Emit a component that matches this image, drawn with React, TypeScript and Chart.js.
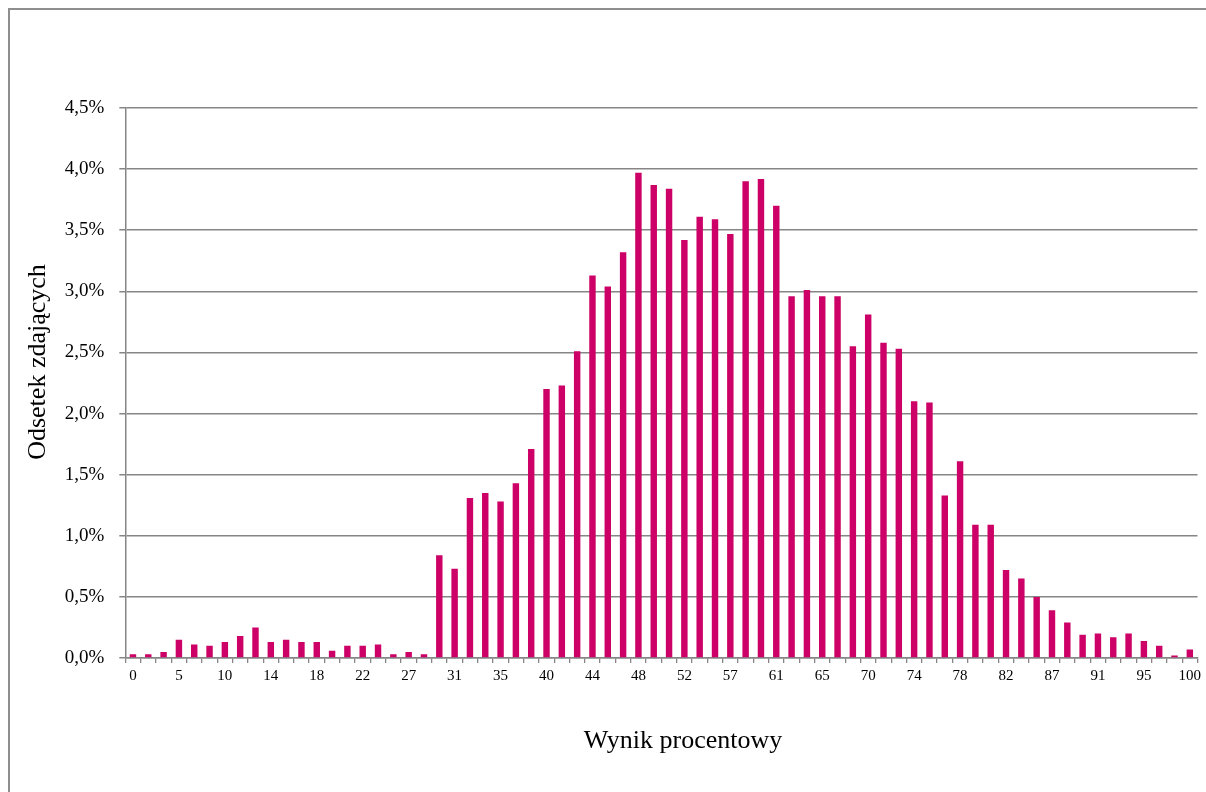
import React, { useEffect, useRef } from "react";
import { Chart, registerables } from "chart.js";

Chart.register(...registerables);

const categories: string[] = [
  "0", "1", "3", "5", "6", "8", "10", "11", "12", "14",
  "15", "16", "18", "19", "21", "22", "24", "25", "27", "28",
  "29", "31", "32", "34", "35", "37", "38", "40", "41", "43",
  "44", "45", "47", "48", "50", "51", "52", "54", "55", "57",
  "58", "60", "61", "62", "64", "65", "67", "68", "70", "71",
  "72", "74", "75", "77", "78", "80", "81", "82", "84", "86",
  "87", "88", "90", "91", "93", "94", "95", "97", "99", "100",
];

const shares: number[] = [
  0.03, 0.03, 0.05, 0.15, 0.11, 0.10, 0.13, 0.18, 0.25, 0.13,
  0.15, 0.13, 0.13, 0.06, 0.10, 0.10, 0.11, 0.03, 0.05, 0.03,
  0.84, 0.73, 1.31, 1.35, 1.28, 1.43, 1.71, 2.20, 2.23, 2.51,
  3.13, 3.04, 3.32, 3.97, 3.87, 3.84, 3.42, 3.61, 3.59, 3.47,
  3.90, 3.92, 3.70, 2.96, 3.01, 2.96, 2.96, 2.55, 2.81, 2.58,
  2.53, 2.10, 2.09, 1.33, 1.61, 1.09, 1.09, 0.72, 0.65, 0.50,
  0.39, 0.29, 0.19, 0.20, 0.17, 0.20, 0.14, 0.10, 0.02, 0.07,
];

const labelEvery = 3;
const xTitle = "Wynik procentowy";
const yTitle = "Odsetek zdających";

const FONT = "'Liberation Serif', 'Times New Roman', serif";
const GRID = "#868686";

const titlesPlugin = {
  id: "axisTitles",
  afterDraw(chart: any) {
    const ctx = chart.ctx;
    ctx.save();
    ctx.fillStyle = "#000";
    ctx.font = `26px ${FONT}`;
    ctx.textAlign = "center";
    ctx.textBaseline = "middle";
    ctx.fillText(xTitle, 683, 741);
    ctx.translate(38, 362);
    ctx.rotate(-Math.PI / 2);
    ctx.fillText(yTitle, 0, 0);
    ctx.restore();
  },
};

export default function App() {
  const ref = useRef<HTMLCanvasElement | null>(null);

  useEffect(() => {
    if (!ref.current) return;
    const chart = new Chart(ref.current, {
      type: "bar",
      data: {
        labels: categories,
        datasets: [
          {
            data: shares,
            backgroundColor: "#CC0066",
            borderWidth: 0,
            barPercentage: 0.42,
            categoryPercentage: 1,
          },
        ],
      },
      options: {
        responsive: false,
        animation: false,
        devicePixelRatio: 1,
        layout: { padding: { left: 0, top: 108, right: 8.5, bottom: 0 } },
        plugins: {
          legend: { display: false },
          tooltip: { enabled: false },
          title: { display: false },
        },
        scales: {
          x: {
            offset: true,
            afterFit: (scale: any) => {
              scale.height = 134;
            },
            grid: {
              display: true,
              offset: true,
              drawOnChartArea: false,
              drawTicks: true,
              tickLength: 5,
              color: GRID,
              lineWidth: 1.3,
            },
            border: { display: true, color: GRID, width: 1.5 },
            ticks: {
              autoSkip: false,
              maxRotation: 0,
              minRotation: 0,
              padding: 4,
              color: "#000",
              font: { family: FONT, size: 15 },
              callback: (_v: any, i: number) =>
                i % labelEvery === 0 ? categories[i] : "",
            },
          },
          y: {
            min: 0,
            max: 4.5,
            afterFit: (scale: any) => {
              scale.width = 125.3;
            },
            grid: {
              color: GRID,
              lineWidth: 1.5,
              tickLength: 6,
              drawTicks: true,
            },
            border: { display: true, color: GRID, width: 1.5 },
            ticks: {
              stepSize: 0.5,
              padding: 15,
              color: "#000",
              font: { family: FONT, size: 19 },
              callback: (v: any) =>
                Number(v).toFixed(1).replace(".", ",") + "%",
            },
          },
        },
      },
      plugins: [titlesPlugin],
    });
    return () => chart.destroy();
  }, []);

  return (
    <div
      style={{
        position: "fixed",
        left: 0,
        top: 0,
        width: 1206,
        height: 792,
        overflow: "hidden",
        background: "#fff",
      }}
    >
      <div
        style={{
          position: "absolute",
          left: 8,
          top: 8,
          width: 1400,
          height: 1000,
          borderLeft: "2px solid #8e8e8e",
          borderTop: "2px solid #8e8e8e",
        }}
      />
      <canvas
        ref={ref}
        width={1206}
        height={792}
        style={{ position: "absolute", left: 0, top: 0, width: 1206, height: 792 }}
      />
    </div>
  );
}
